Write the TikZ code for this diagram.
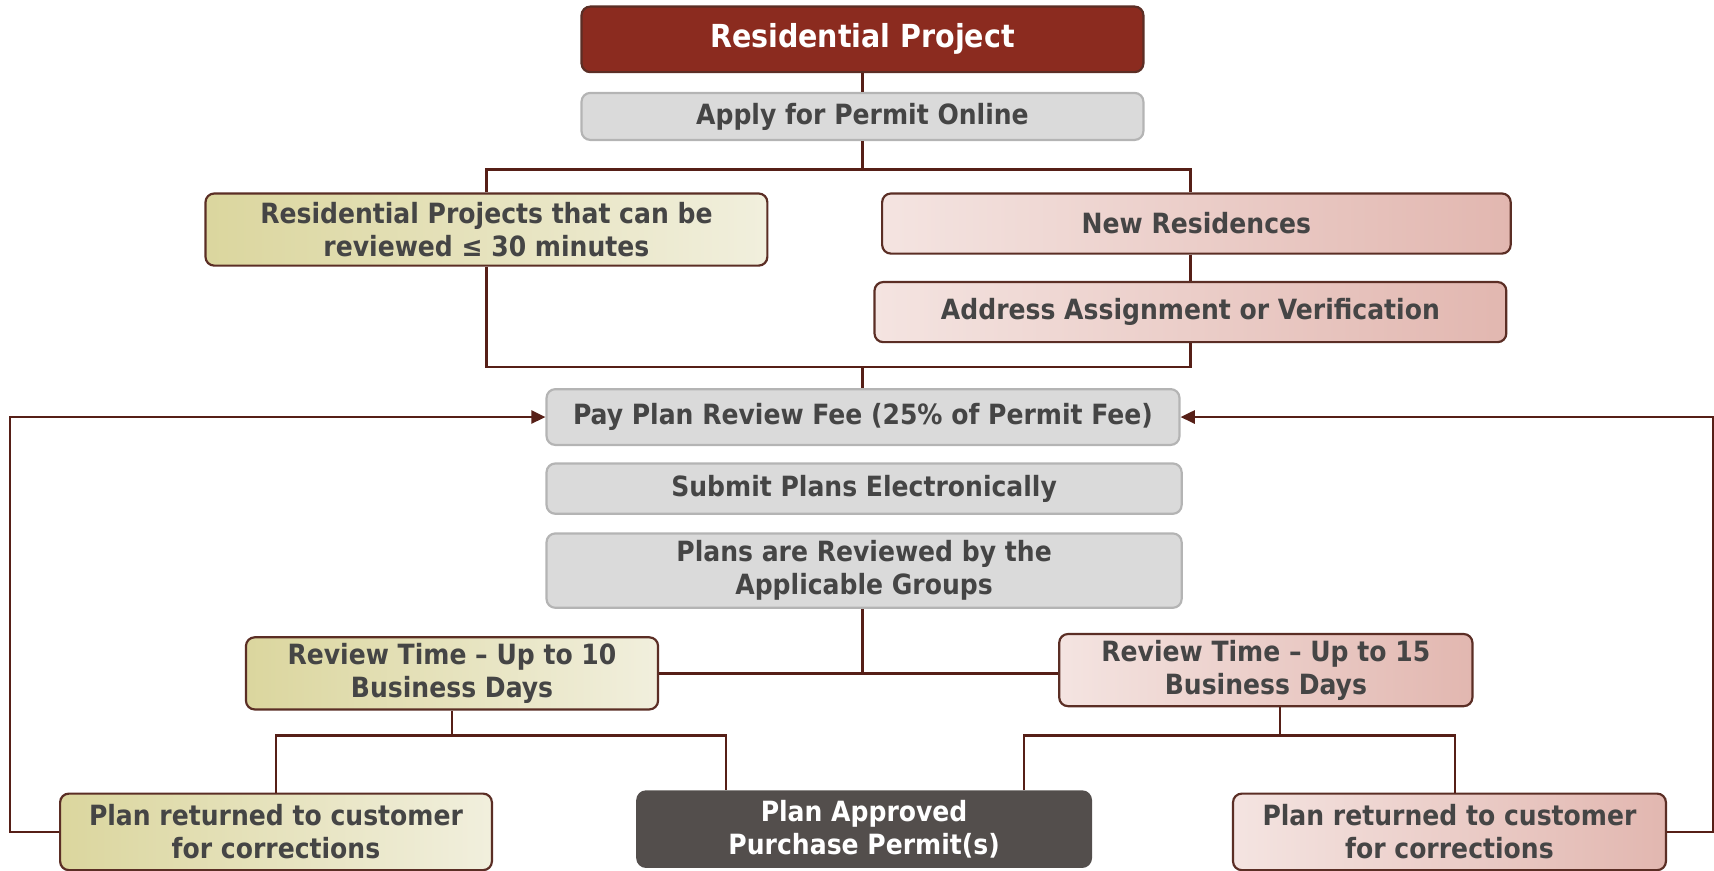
\documentclass[tikz,border=0pt]{standalone}
\usepackage{fontspec}
\setmainfont{DejaVu Sans Condensed}
\usetikzlibrary{arrows.meta}
\definecolor{titlered}{HTML}{8B2B1F}
\definecolor{linkbrown}{HTML}{561F17}
\definecolor{grayfill}{HTML}{DADADA}
\definecolor{grayedge}{HTML}{B4B4B4}
\definecolor{txtgray}{HTML}{454545}
\definecolor{yellowA}{HTML}{DBD69E}
\definecolor{yellowB}{HTML}{F1EFDD}
\definecolor{pinkA}{HTML}{E2B7B0}
\definecolor{pinkB}{HTML}{F4E4E1}
\definecolor{boxedge}{HTML}{5B2E25}
\definecolor{darkfill}{HTML}{534E4C}

\begin{document}
\begin{tikzpicture}[x=1pt,y=-1pt,
    box/.style={rounded corners=8pt, inner sep=0pt, align=center, line width=2pt,
      font=\fontsize{25.5}{30}\selectfont\bfseries, text=txtgray},
    graybox/.style={box, fill=grayfill, draw=grayedge},
    yellowbox/.style={box, draw=boxedge, left color=yellowA, right color=yellowB},
    pinkbox/.style={box, draw=boxedge, left color=pinkB, right color=pinkA},
    titlebox/.style={box, fill=titlered, draw=boxedge, text=white,
      font=\fontsize{29}{34}\selectfont\bfseries},
    okbox/.style={box, fill=darkfill, draw=darkfill, text=white},
    link/.style={draw=linkbrown, line width=2.2pt},
    back/.style={link, -{Triangle[length=13pt,width=12pt]}}]
    \useasboundingbox (0,0) rectangle (1568,796);

    % top part
    \node[titlebox, minimum width=514pt, minimum height=60pt] (title) at (789,36) {Residential Project};
    \node[graybox, minimum width=514pt, minimum height=43pt] (apply) at (789,106.5) {Apply for Permit Online};
    \node[yellowbox, minimum width=514pt, minimum height=66pt] (quick) at (445,210)
        {Residential Projects that can be\\reviewed ≤ 30 minutes};
    \node[pinkbox, minimum width=575pt, minimum height=55pt] (newres) at (1094.5,204.5) {New Residences};
    \node[pinkbox, minimum width=578pt, minimum height=55pt] (addr) at (1089,285.5) {Address Assignment or Verification};

    % middle part
    \node[graybox, minimum width=579pt, minimum height=51pt] (pay) at (789.5,381.5) {Pay Plan Review Fee (25\% of Permit Fee)};
    \node[graybox, minimum width=581pt, minimum height=46pt] (submit) at (790.5,447) {Submit Plans Electronically};
    \node[graybox, minimum width=581pt, minimum height=68pt] (reviewed) at (790.5,522)
        {Plans are Reviewed by the\\Applicable Groups};

    % review times
    \node[yellowbox, minimum width=377pt, minimum height=66pt] (rev10) at (413.5,616)
        {Review Time -- Up to 10\\Business Days};
    \node[pinkbox, minimum width=378pt, minimum height=66pt] (rev15) at (1158,613)
        {Review Time -- Up to 15\\Business Days};

    % outcomes
    \node[yellowbox, minimum width=395pt, minimum height=70pt] (ret10) at (252.5,761)
        {Plan returned to customer\\for corrections};
    \node[okbox, minimum width=415pt, minimum height=69pt] (approved) at (790.5,758.5)
        {Plan Approved\\Purchase Permit(s)};
    \node[pinkbox, minimum width=396pt, minimum height=70pt] (ret15) at (1326,761)
        {Plan returned to customer\\for corrections};

    \coordinate (j1) at (789,155);
    \coordinate (j2) at (789,336);
    \coordinate (j3) at (789,615);
    \coordinate (j4) at (413.5,673);
    \coordinate (j5) at (1171,673);

    \draw[link] (title) -- (apply);
    \draw[link] (apply) -- (j1);
    \draw[link] (quick.north) |- (j1) -| (newres.north -| addr.north);
    \draw[link] (newres.south -| addr.north) -- (addr.north);
    \draw[link] (quick.south) |- (j2) -| (addr.south);
    \draw[link] (j2) -- (j2 |- pay.north);

    \draw[link] (j3 |- reviewed.south) -- (j3);
    \draw[link] (rev10.east) -- (rev10.east -| rev15.west);

    \draw[link] (rev10) -- (j4);
    \draw[link] (ret10.north) |- (j4) -| ([xshift=-126.5pt]approved.north);
    \draw[link] (j5 |- rev15.south) -- (j5);
    \draw[link] ([xshift=146.5pt]approved.north) |- (j5) -| ([xshift=5pt]ret15.north);

    \draw[back] (ret10.west) -- ++(-45,0) |- (pay.west);
    \draw[back] (ret15.east) -- ++(42,0) |- (pay.east);
\end{tikzpicture}
\end{document}
